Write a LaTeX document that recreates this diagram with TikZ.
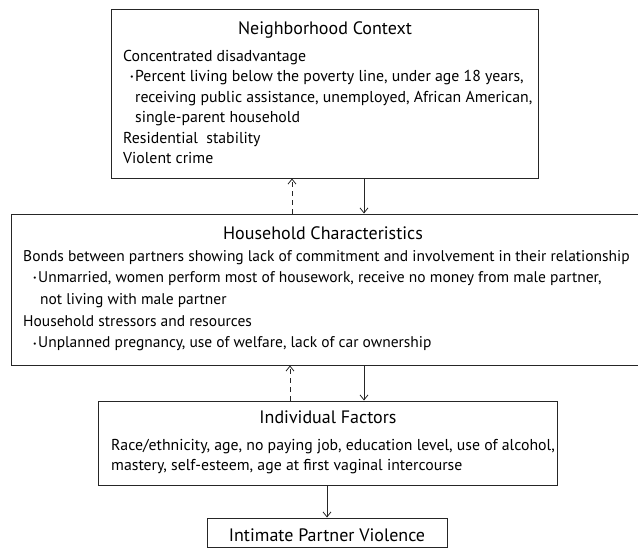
\documentclass[tikz,border=0pt]{standalone}
\usepackage{fontspec}
\setmainfont{PT Sans}
\usetikzlibrary{positioning,arrows.meta}
\newcommand{\itemdot}{\raisebox{0.25ex}{\scalebox{0.5}{\textbullet}}}
\newcommand{\dotitem}[2][12pt]{\hspace*{#1}\llap{\itemdot\kern1.5pt}#2}
\newcommand{\dotline}[2][12pt]{\hspace*{#1}#2}

\begin{document}
\begin{tikzpicture}[x=1pt, y=-1pt,
  box/.style={draw=black!85, line width=0.9pt, inner sep=0pt},
  heading/.style={font=\fontsize{18}{21}\selectfont, inner sep=0pt, anchor=base},
  body/.style={font=\fontsize{15.8}{20.5}\selectfont, inner sep=0pt, anchor=north west, align=left},
  flow/.style={-{Straight Barb[length=5pt, width=8pt]}, line width=0.8pt, black!85},
  back/.style={flow, dash pattern=on 5pt off 4pt}
  ]
  \useasboundingbox (0,0) rectangle (638,548);

  \node[box, minimum width=427pt, minimum height=169pt] (nbh) at (324.5,93.5) {};
  \node[box, minimum width=634pt, minimum height=151pt] (hh) at (328,289.5) {};
  \node[box, minimum width=459pt, minimum height=84pt] (ind) at (327.5,443) {};
  \node[box, minimum width=240pt, minimum height=29pt] (ipv) at (327,532.5) {};

  \node[heading] (nbhtitle) at (325,34.5) {Neighborhood Context};
  \node[body] (nbhbody) at (123,50) {Concentrated disadvantage\\
    \dotitem{Percent living below the poverty line, under age 18 years,}\\
    \dotline{receiving public assistance, unemployed, African American,}\\
    \dotline{single-parent household}\\
    Residential\ \ stability\\
    Violent crime};

  \node[heading] (hhtitle) at (323,239.5) {Household Characteristics};
  \node[body, font=\fontsize{15.5}{21.7}\selectfont] (hhbody) at (23,250) {Bonds between partners showing lack of commitment and involvement in their relationship\\
    \dotitem[15pt]{Unmarried, women perform most of housework, receive no money from male partner,}\\
    \dotline[17pt]{not living with male partner}\\
    Household stressors and resources\\
    \dotitem[15pt]{Unplanned pregnancy, use of welfare, lack of car ownership}};

  \node[heading] (indtitle) at (328,423.5) {Individual Factors};
  \node[body, font=\fontsize{15.8}{20}\selectfont] (indbody) at (111,439.5) {Race/ethnicity, age, no paying job, education level, use of alcohol,\\
    mastery, self-esteem, age at first vaginal intercourse};

  \node[heading] (ipvtitle) at (327,541.5) {Intimate Partner Violence};

  \draw[flow] ([xshift=39.5pt]nbh.south) -- ([xshift=39.5pt]nbh.south |- hh.north);
  \draw[back] ([xshift=-32.5pt]nbh.south |- hh.north) -- ([xshift=-32.5pt]nbh.south);
  \draw[flow] ([xshift=36pt]hh.south) -- ([xshift=36pt]hh.south |- ind.north);
  \draw[back] ([xshift=-38pt]hh.south |- ind.north) -- ([xshift=-38pt]hh.south);
  \draw[flow] (ind.south -| ipv.north) -- (ipv.north);
\end{tikzpicture}
\end{document}
